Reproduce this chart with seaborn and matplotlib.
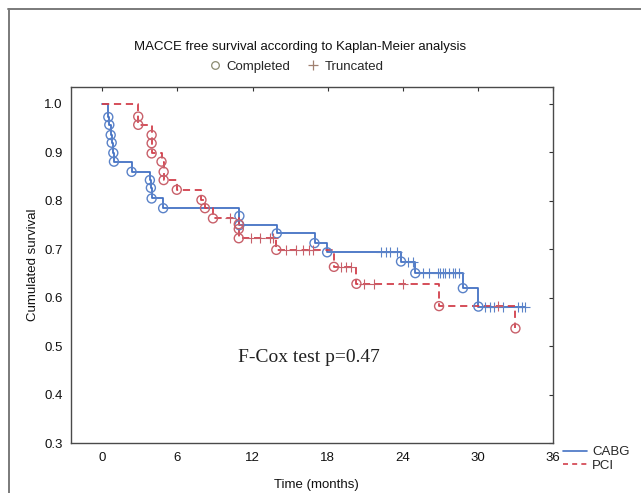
import numpy as np
import pandas as pd
import matplotlib
matplotlib.use("Agg")
import matplotlib.pyplot as plt
import seaborn as sns
from matplotlib.lines import Line2D

# ---------------- data ----------------
groups = ["CABG", "PCI"]

cabg_event_t = [0.48, 0.56, 0.67, 0.75, 0.88, 0.93, 2.34, 3.80, 3.88, 3.94, 4.86,
                10.95, 10.95, 13.94, 16.95, 17.96, 23.86, 25.0, 28.8, 30.04]
cabg_event_s = [0.973, 0.957, 0.936, 0.920, 0.899, 0.881, 0.860, 0.843, 0.827, 0.805, 0.785,
                0.769, 0.750, 0.733, 0.713, 0.694, 0.675, 0.651, 0.620, 0.582]
cabg_cens_t = [22.3, 22.7, 23.0, 23.5, 24.4, 24.8,
               25.6, 26.1, 26.8, 26.95, 27.2, 27.4, 27.7, 28.0, 28.2, 28.5,
               30.6, 31.0, 31.3, 32.0, 33.2, 33.5, 33.8]
cabg_end_t = 33.8

pci_event_t = [2.87, 2.87, 3.94, 3.94, 3.94, 4.73, 4.90, 4.90, 5.95, 7.92, 8.20, 8.84,
               10.9, 10.9, 10.9, 13.9, 18.5, 20.3, 26.9, 33.0]
pci_event_s = [0.974, 0.957, 0.936, 0.919, 0.898, 0.881, 0.860, 0.843, 0.823, 0.802, 0.785, 0.764,
               0.752, 0.742, 0.723, 0.699, 0.664, 0.629, 0.583, 0.537]
pci_cens_t = [10.2, 11.9, 12.6, 13.4, 13.6, 14.7, 15.5, 16.0, 16.5, 16.8,
              19.1, 19.5, 19.9, 20.9, 21.7, 24.0, 31.6]
pci_end_t = 33.0

x_ticks = [0, 6, 12, 18, 24, 30, 36]
y_ticks = [0.3, 0.4, 0.5, 0.6, 0.7, 0.8, 0.9, 1.0]

title = "MACCE free survival according to Kaplan-Meier analysis"
test_text = "F-Cox test p=0.47"

# ---------------- style ----------------
sns.set_theme(style="white")
plt.rcParams['font.family'] = ['Liberation Sans', 'DejaVu Sans']

blue = "#4472c4"
blue_m = "#5a82c8"
red = "#d2404c"
red_m = "#c8606a"

fig = plt.figure(figsize=(6.41, 4.93), dpi=100, facecolor="white")
ax = fig.add_axes([71 / 641, 1 - 443.3 / 493, 482 / 641, 356.3 / 493])
ax.set_facecolor("white")


def step_frame(times, surv, end_t, name):
    t = [0.0] + list(times) + [end_t]
    s = [1.0] + list(surv) + [surv[-1]]
    return pd.DataFrame({"time": t, "survival": s, "group": name})


def cens_frame(event_t, event_s, cens_t):
    et = np.asarray(event_t)
    es = np.concatenate([[1.0], np.asarray(event_s)])
    idx = np.searchsorted(et, np.asarray(cens_t), side="right")
    return pd.DataFrame({"time": cens_t, "survival": es[idx]})


series = [
    ("CABG", cabg_event_t, cabg_event_s, cabg_cens_t, cabg_end_t, blue, blue_m, "-"),
    ("PCI", pci_event_t, pci_event_s, pci_cens_t, pci_end_t, red, red_m, "--"),
]

for name, et, es, ct, end_t, col, mcol, ls in series:
    df = step_frame(et, es, end_t, name)
    sns.lineplot(data=df, x="time", y="survival", ax=ax, estimator=None, sort=False,
                 color=col, linewidth=1.3, drawstyle="steps-post", legend=False)
    if ls == "--":
        ax.lines[-1].set_dashes((4, 2.6))
    ev = pd.DataFrame({"time": et, "survival": es})
    sns.scatterplot(data=ev, x="time", y="survival", ax=ax, marker="o", s=42,
                    facecolor="none", edgecolor=mcol, linewidth=1.0, zorder=4, legend=False)
    cf = cens_frame(et, es, ct)
    sns.scatterplot(data=cf, x="time", y="survival", ax=ax, marker="+", s=42,
                    color=mcol, edgecolor=None, linewidth=0.8, zorder=4, legend=False)

ax.set_xlim(-2.5, 36)
ax.set_ylim(0.3, 1.035)
ax.set_xticks(x_ticks)
ax.set_yticks(y_ticks)
ax.set_xticklabels([str(v) for v in x_ticks])
ax.set_yticklabels([f"{v:.1f}" for v in y_ticks])
ax.tick_params(direction="in", length=3, width=0.8, top=True, right=True,
               labelsize=9.5, colors="#333333", labelcolor="#111111", pad=6)
for sp in ax.spines.values():
    sp.set_color("#4a4a4a")
    sp.set_linewidth(1.0)

ax.set_xlabel("Time (months)", fontsize=9.5, color="#111111")
ax.set_ylabel("Cumulated survival", fontsize=9.5, color="#111111")
ax.xaxis.set_label_coords(0.51, -0.10)
ax.yaxis.set_label_coords(-0.066, 0.5)

ax.text(16.5, 0.476, test_text, ha="center", va="center", fontsize=14,
        family=["Liberation Serif", "DejaVu Serif"], color="#222222")

# title and marker legend
fig.text(300 / 641, 1 - 47 / 493, title, ha="center", va="center", fontsize=9.5, color="#111111")
h_comp = Line2D([], [], linestyle="none", marker="o", markersize=5.5, markerfacecolor="none",
                markeredgecolor="#8a8a70", markeredgewidth=0.9)
h_trunc = Line2D([], [], linestyle="none", marker="+", markersize=6.5,
                 markeredgecolor="#a08070", markeredgewidth=0.9)
fig.legend([h_comp, h_trunc], ["Completed", "Truncated"], loc="center",
           bbox_to_anchor=(296 / 641, 1 - 67 / 493), ncol=2, frameon=False,
           fontsize=9.5, handlelength=1.0, handletextpad=0.4, columnspacing=1.2,
           borderpad=0, borderaxespad=0)

# group legend bottom right
h_cabg = Line2D([], [], color=blue, linewidth=1.2)
h_pci = Line2D([], [], color=red, linewidth=1.2, linestyle=(0, (3, 2.5)))
fig.legend([h_cabg, h_pci], groups, loc="center left",
           bbox_to_anchor=(563 / 641, 1 - 459 / 493), frameon=False, fontsize=9.5,
           handlelength=1.8, handletextpad=0.4, labelspacing=0.1,
           borderpad=0, borderaxespad=0)

# outer frame lines
fig.add_artist(Line2D([8 / 641, 1.0], [1 - 9 / 493, 1 - 9 / 493], color="#7a7a7a",
                      linewidth=1.4, transform=fig.transFigure))
fig.add_artist(Line2D([9 / 641, 9 / 641], [1 - 9 / 493, 0.0], color="#7a7a7a",
                      linewidth=1.4, transform=fig.transFigure))

fig.savefig("out.png", dpi=100, facecolor="white")
